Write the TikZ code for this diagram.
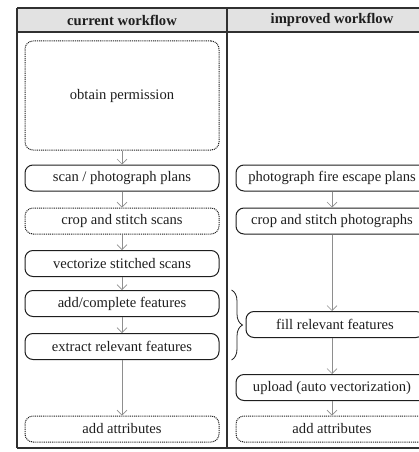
\documentclass[tikz,border=0pt]{standalone}
\usepackage{fontspec}
\setmainfont{Liberation Serif}
\usetikzlibrary{arrows.meta,decorations.pathreplacing}
\definecolor{ink}{HTML}{1E1E1E}
\definecolor{rule}{HTML}{303030}
\definecolor{head}{HTML}{E2E2E2}
\definecolor{flow}{HTML}{8E8E8E}

\tikzset{
  stepbox/.style={draw=ink,line width=1pt,rounded corners=8pt,
                  minimum height=26pt,inner sep=0pt,text=ink},
  optbox/.style={stepbox,dash pattern=on 1pt off .9pt,line width=1pt},
  flowarrow/.style={-{Straight Barb[length=5pt,width=10pt]},flow,line width=.6pt},
}

\begin{document}
\begin{tikzpicture}[x=1pt,y=-1pt,font=\fontsize{14.6}{17}\selectfont]
  \useasboundingbox (0,0) rectangle (419,452);

  % table frame and header row
  \fill[head] (17,8) rectangle (440,32);
  \draw[rule,line width=1.2pt] (17,8) -- (440,8);
  \draw[rule,line width=1.2pt] (17,32) -- (440,32);
  \draw[rule,line width=1.2pt] (17,448) -- (440,448);
  \draw[rule,line width=1.2pt] (17,8) -- (17,448);
  \draw[rule,line width=1.2pt] (227,8) -- (227,448);
  \node[font=\fontsize{14.6}{17}\selectfont\bfseries,text=ink] (headcur) at (122,20) {current workflow};
  \node[font=\fontsize{14.6}{17}\selectfont\bfseries,text=ink] (headimp) at (332,20) {improved workflow};

  % current workflow
  \node[optbox,minimum width=194pt,minimum height=109pt] (obtain) at (122,95.5) {obtain permission};
  \node[stepbox,minimum width=194pt] (scan) at (122,178) {scan / photograph plans};
  \node[optbox,minimum width=194pt] (cropscan) at (122,221) {crop and stitch scans};
  \node[stepbox,minimum width=194pt] (vector) at (122,263.5) {vectorize stitched scans};
  \node[stepbox,minimum width=194pt] (addfeat) at (122,303.5) {add/complete features};
  \node[stepbox,minimum width=194pt] (extract) at (122,346.5) {extract relevant features};
  \node[optbox,minimum width=194pt] (attrcur) at (122,429) {add attributes};

  \draw[flowarrow] (obtain) -- (scan);
  \draw[flowarrow] (scan) -- (cropscan);
  \draw[flowarrow] (cropscan) -- (vector);
  \draw[flowarrow] (vector) -- (addfeat);
  \draw[flowarrow] (addfeat) -- (extract);
  \draw[flowarrow] (extract) -- (attrcur);

  % improved workflow
  \node[stepbox,minimum width=192pt] (photo) at (332,178) {photograph fire escape plans};
  \node[stepbox,minimum width=192pt] (cropphoto) at (332,221) {crop and stitch photographs};
  \node[stepbox,minimum width=178pt] (fill) at (335,324.5) {fill relevant features};
  \node[stepbox,minimum width=192pt] (upload) at (332,387.5) {upload (auto vectorization)};
  \node[optbox,minimum width=192pt] (attrimp) at (332,429) {add attributes};

  \draw[flowarrow] (photo) -- (cropphoto);
  \draw[flowarrow] (cropphoto.south) -- (cropphoto.south |- fill.north);
  \draw[flowarrow] (fill.south -| upload.north) -- (upload.north);
  \draw[flowarrow] (upload) -- (attrimp);

  % both manual steps become one
  \draw[ink,line width=.8pt,decorate,decoration={brace,amplitude=11pt}]
    ([xshift=12pt]addfeat.north east) -- ([xshift=12pt]extract.south east);
\end{tikzpicture}
\end{document}
